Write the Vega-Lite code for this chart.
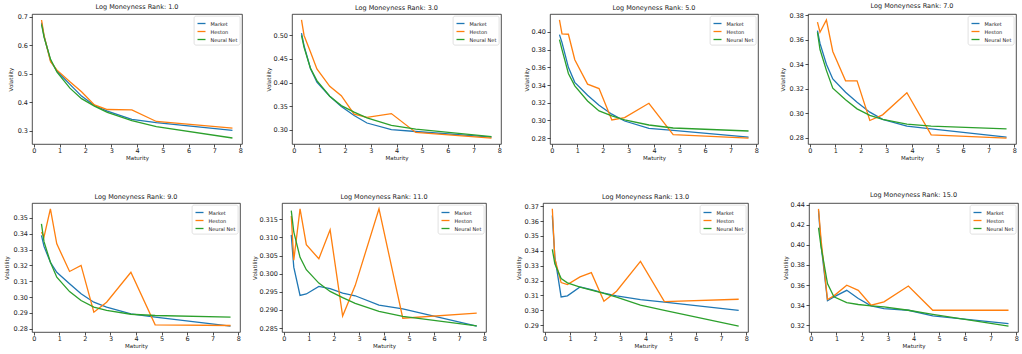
{
"$schema": "https://vega.github.io/schema/vega-lite/v6.json",
"padding": {"left": 0, "top": 2, "right": 0, "bottom": 0},
"background": "white",
"data": {"values": [
{"rank":1,"series":"Market","maturity":0.3,"vol":0.679},{"rank":1,"series":"Market","maturity":0.4,"vol":0.63},{"rank":1,"series":"Market","maturity":0.65,"vol":0.545},{"rank":1,"series":"Market","maturity":0.9,"vol":0.508},{"rank":1,"series":"Market","maturity":1.4,"vol":0.462},{"rank":1,"series":"Market","maturity":1.85,"vol":0.421},{"rank":1,"series":"Market","maturity":2.35,"vol":0.388},{"rank":1,"series":"Market","maturity":2.85,"vol":0.368},{"rank":1,"series":"Market","maturity":3.8,"vol":0.339},{"rank":1,"series":"Market","maturity":4.75,"vol":0.328},{"rank":1,"series":"Market","maturity":7.7,"vol":0.301},
{"rank":1,"series":"Heston","maturity":0.3,"vol":0.688},{"rank":1,"series":"Heston","maturity":0.4,"vol":0.632},{"rank":1,"series":"Heston","maturity":0.65,"vol":0.542},{"rank":1,"series":"Heston","maturity":0.9,"vol":0.512},{"rank":1,"series":"Heston","maturity":1.4,"vol":0.471},{"rank":1,"series":"Heston","maturity":1.85,"vol":0.436},{"rank":1,"series":"Heston","maturity":2.35,"vol":0.39},{"rank":1,"series":"Heston","maturity":2.85,"vol":0.374},{"rank":1,"series":"Heston","maturity":3.8,"vol":0.373},{"rank":1,"series":"Heston","maturity":4.75,"vol":0.332},{"rank":1,"series":"Heston","maturity":7.7,"vol":0.309},
{"rank":1,"series":"Neural Net","maturity":0.3,"vol":0.673},{"rank":1,"series":"Neural Net","maturity":0.4,"vol":0.627},{"rank":1,"series":"Neural Net","maturity":0.65,"vol":0.55},{"rank":1,"series":"Neural Net","maturity":0.9,"vol":0.505},{"rank":1,"series":"Neural Net","maturity":1.4,"vol":0.449},{"rank":1,"series":"Neural Net","maturity":1.85,"vol":0.412},{"rank":1,"series":"Neural Net","maturity":2.35,"vol":0.386},{"rank":1,"series":"Neural Net","maturity":2.85,"vol":0.364},{"rank":1,"series":"Neural Net","maturity":3.8,"vol":0.335},{"rank":1,"series":"Neural Net","maturity":4.75,"vol":0.314},{"rank":1,"series":"Neural Net","maturity":7.7,"vol":0.274},
{"rank":3,"series":"Market","maturity":0.3,"vol":0.505},{"rank":3,"series":"Market","maturity":0.4,"vol":0.478},{"rank":3,"series":"Market","maturity":0.65,"vol":0.43},{"rank":3,"series":"Market","maturity":0.9,"vol":0.401},{"rank":3,"series":"Market","maturity":1.4,"vol":0.371},{"rank":3,"series":"Market","maturity":1.85,"vol":0.349},{"rank":3,"series":"Market","maturity":2.35,"vol":0.33},{"rank":3,"series":"Market","maturity":2.85,"vol":0.314},{"rank":3,"series":"Market","maturity":3.8,"vol":0.3},{"rank":3,"series":"Market","maturity":4.75,"vol":0.296},{"rank":3,"series":"Market","maturity":7.7,"vol":0.284},
{"rank":3,"series":"Heston","maturity":0.3,"vol":0.533},{"rank":3,"series":"Heston","maturity":0.4,"vol":0.5},{"rank":3,"series":"Heston","maturity":0.65,"vol":0.465},{"rank":3,"series":"Heston","maturity":0.9,"vol":0.429},{"rank":3,"series":"Heston","maturity":1.4,"vol":0.392},{"rank":3,"series":"Heston","maturity":1.85,"vol":0.372},{"rank":3,"series":"Heston","maturity":2.35,"vol":0.333},{"rank":3,"series":"Heston","maturity":2.85,"vol":0.326},{"rank":3,"series":"Heston","maturity":3.8,"vol":0.334},{"rank":3,"series":"Heston","maturity":4.75,"vol":0.294},{"rank":3,"series":"Heston","maturity":7.7,"vol":0.282},
{"rank":3,"series":"Neural Net","maturity":0.3,"vol":0.5},{"rank":3,"series":"Neural Net","maturity":0.4,"vol":0.475},{"rank":3,"series":"Neural Net","maturity":0.65,"vol":0.43},{"rank":3,"series":"Neural Net","maturity":0.9,"vol":0.404},{"rank":3,"series":"Neural Net","maturity":1.4,"vol":0.371},{"rank":3,"series":"Neural Net","maturity":1.85,"vol":0.351},{"rank":3,"series":"Neural Net","maturity":2.35,"vol":0.337},{"rank":3,"series":"Neural Net","maturity":2.85,"vol":0.325},{"rank":3,"series":"Neural Net","maturity":3.8,"vol":0.309},{"rank":3,"series":"Neural Net","maturity":4.75,"vol":0.301},{"rank":3,"series":"Neural Net","maturity":7.7,"vol":0.285},
{"rank":5,"series":"Market","maturity":0.3,"vol":0.397},{"rank":5,"series":"Market","maturity":0.4,"vol":0.388},{"rank":5,"series":"Market","maturity":0.65,"vol":0.36},{"rank":5,"series":"Market","maturity":0.9,"vol":0.343},{"rank":5,"series":"Market","maturity":1.4,"vol":0.3285},{"rank":5,"series":"Market","maturity":1.85,"vol":0.317},{"rank":5,"series":"Market","maturity":2.35,"vol":0.307},{"rank":5,"series":"Market","maturity":2.85,"vol":0.2993},{"rank":5,"series":"Market","maturity":3.8,"vol":0.291},{"rank":5,"series":"Market","maturity":4.75,"vol":0.2887},{"rank":5,"series":"Market","maturity":7.7,"vol":0.2811},
{"rank":5,"series":"Heston","maturity":0.3,"vol":0.4136},{"rank":5,"series":"Heston","maturity":0.4,"vol":0.3977},{"rank":5,"series":"Heston","maturity":0.65,"vol":0.3974},{"rank":5,"series":"Heston","maturity":0.9,"vol":0.3686},{"rank":5,"series":"Heston","maturity":1.4,"vol":0.341},{"rank":5,"series":"Heston","maturity":1.85,"vol":0.336},{"rank":5,"series":"Heston","maturity":2.35,"vol":0.3005},{"rank":5,"series":"Heston","maturity":2.85,"vol":0.3031},{"rank":5,"series":"Heston","maturity":3.8,"vol":0.3194},{"rank":5,"series":"Heston","maturity":4.75,"vol":0.2838},{"rank":5,"series":"Heston","maturity":7.7,"vol":0.28},
{"rank":5,"series":"Neural Net","maturity":0.3,"vol":0.3913},{"rank":5,"series":"Neural Net","maturity":0.4,"vol":0.38},{"rank":5,"series":"Neural Net","maturity":0.65,"vol":0.353},{"rank":5,"series":"Neural Net","maturity":0.9,"vol":0.339},{"rank":5,"series":"Neural Net","maturity":1.4,"vol":0.322},{"rank":5,"series":"Neural Net","maturity":1.85,"vol":0.3107},{"rank":5,"series":"Neural Net","maturity":2.35,"vol":0.305},{"rank":5,"series":"Neural Net","maturity":2.85,"vol":0.3005},{"rank":5,"series":"Neural Net","maturity":3.8,"vol":0.2948},{"rank":5,"series":"Neural Net","maturity":4.75,"vol":0.2914},{"rank":5,"series":"Neural Net","maturity":7.7,"vol":0.288},
{"rank":7,"series":"Market","maturity":0.3,"vol":0.3675},{"rank":7,"series":"Market","maturity":0.4,"vol":0.357},{"rank":7,"series":"Market","maturity":0.65,"vol":0.34},{"rank":7,"series":"Market","maturity":0.9,"vol":0.328},{"rank":7,"series":"Market","maturity":1.4,"vol":0.3172},{"rank":7,"series":"Market","maturity":1.85,"vol":0.309},{"rank":7,"series":"Market","maturity":2.35,"vol":0.3009},{"rank":7,"series":"Market","maturity":2.85,"vol":0.295},{"rank":7,"series":"Market","maturity":3.8,"vol":0.2895},{"rank":7,"series":"Market","maturity":4.75,"vol":0.2873},{"rank":7,"series":"Market","maturity":7.7,"vol":0.2805},
{"rank":7,"series":"Heston","maturity":0.3,"vol":0.3743},{"rank":7,"series":"Heston","maturity":0.4,"vol":0.3661},{"rank":7,"series":"Heston","maturity":0.65,"vol":0.3762},{"rank":7,"series":"Heston","maturity":0.9,"vol":0.3504},{"rank":7,"series":"Heston","maturity":1.4,"vol":0.3265},{"rank":7,"series":"Heston","maturity":1.85,"vol":0.3265},{"rank":7,"series":"Heston","maturity":2.35,"vol":0.2941},{"rank":7,"series":"Heston","maturity":2.85,"vol":0.2987},{"rank":7,"series":"Heston","maturity":3.8,"vol":0.3167},{"rank":7,"series":"Heston","maturity":4.75,"vol":0.2824},{"rank":7,"series":"Heston","maturity":7.7,"vol":0.2797},
{"rank":7,"series":"Neural Net","maturity":0.3,"vol":0.3661},{"rank":7,"series":"Neural Net","maturity":0.4,"vol":0.352},{"rank":7,"series":"Neural Net","maturity":0.65,"vol":0.335},{"rank":7,"series":"Neural Net","maturity":0.9,"vol":0.3205},{"rank":7,"series":"Neural Net","maturity":1.4,"vol":0.311},{"rank":7,"series":"Neural Net","maturity":1.85,"vol":0.3036},{"rank":7,"series":"Neural Net","maturity":2.35,"vol":0.2982},{"rank":7,"series":"Neural Net","maturity":2.85,"vol":0.295},{"rank":7,"series":"Neural Net","maturity":3.8,"vol":0.2911},{"rank":7,"series":"Neural Net","maturity":4.75,"vol":0.2895},{"rank":7,"series":"Neural Net","maturity":7.7,"vol":0.2873},
{"rank":9,"series":"Market","maturity":0.3,"vol":0.339},{"rank":9,"series":"Market","maturity":0.4,"vol":0.332},{"rank":9,"series":"Market","maturity":0.65,"vol":0.322},{"rank":9,"series":"Market","maturity":0.9,"vol":0.3157},{"rank":9,"series":"Market","maturity":1.4,"vol":0.3084},{"rank":9,"series":"Market","maturity":1.85,"vol":0.3021},{"rank":9,"series":"Market","maturity":2.35,"vol":0.2968},{"rank":9,"series":"Market","maturity":2.85,"vol":0.2937},{"rank":9,"series":"Market","maturity":3.8,"vol":0.2895},{"rank":9,"series":"Market","maturity":4.75,"vol":0.2874},{"rank":9,"series":"Market","maturity":7.7,"vol":0.2817},
{"rank":9,"series":"Heston","maturity":0.3,"vol":0.341},{"rank":9,"series":"Heston","maturity":0.4,"vol":0.338},{"rank":9,"series":"Heston","maturity":0.65,"vol":0.3557},{"rank":9,"series":"Heston","maturity":0.9,"vol":0.3336},{"rank":9,"series":"Heston","maturity":1.4,"vol":0.3162},{"rank":9,"series":"Heston","maturity":1.85,"vol":0.32},{"rank":9,"series":"Heston","maturity":2.35,"vol":0.2905},{"rank":9,"series":"Heston","maturity":2.85,"vol":0.2968},{"rank":9,"series":"Heston","maturity":3.8,"vol":0.3157},{"rank":9,"series":"Heston","maturity":4.75,"vol":0.2825},{"rank":9,"series":"Heston","maturity":7.7,"vol":0.2821},
{"rank":9,"series":"Neural Net","maturity":0.3,"vol":0.3462},{"rank":9,"series":"Neural Net","maturity":0.4,"vol":0.335},{"rank":9,"series":"Neural Net","maturity":0.65,"vol":0.322},{"rank":9,"series":"Neural Net","maturity":0.9,"vol":0.3126},{"rank":9,"series":"Neural Net","maturity":1.4,"vol":0.3035},{"rank":9,"series":"Neural Net","maturity":1.85,"vol":0.2979},{"rank":9,"series":"Neural Net","maturity":2.35,"vol":0.2937},{"rank":9,"series":"Neural Net","maturity":2.85,"vol":0.2916},{"rank":9,"series":"Neural Net","maturity":3.8,"vol":0.2892},{"rank":9,"series":"Neural Net","maturity":4.75,"vol":0.2884},{"rank":9,"series":"Neural Net","maturity":7.7,"vol":0.2874},
{"rank":11,"series":"Market","maturity":0.3,"vol":0.3107},{"rank":11,"series":"Market","maturity":0.4,"vol":0.3018},{"rank":11,"series":"Market","maturity":0.65,"vol":0.294},{"rank":11,"series":"Market","maturity":0.9,"vol":0.2944},{"rank":11,"series":"Market","maturity":1.4,"vol":0.2965},{"rank":11,"series":"Market","maturity":1.85,"vol":0.2959},{"rank":11,"series":"Market","maturity":2.35,"vol":0.2946},{"rank":11,"series":"Market","maturity":2.85,"vol":0.2939},{"rank":11,"series":"Market","maturity":3.8,"vol":0.2913},{"rank":11,"series":"Market","maturity":4.75,"vol":0.2903},{"rank":11,"series":"Market","maturity":7.7,"vol":0.2855},
{"rank":11,"series":"Heston","maturity":0.3,"vol":0.3159},{"rank":11,"series":"Heston","maturity":0.4,"vol":0.3037},{"rank":11,"series":"Heston","maturity":0.65,"vol":0.3179},{"rank":11,"series":"Heston","maturity":0.9,"vol":0.308},{"rank":11,"series":"Heston","maturity":1.4,"vol":0.3041},{"rank":11,"series":"Heston","maturity":1.85,"vol":0.3121},{"rank":11,"series":"Heston","maturity":2.35,"vol":0.2883},{"rank":11,"series":"Heston","maturity":2.85,"vol":0.2967},{"rank":11,"series":"Heston","maturity":3.8,"vol":0.3179},{"rank":11,"series":"Heston","maturity":4.75,"vol":0.2877},{"rank":11,"series":"Heston","maturity":7.7,"vol":0.2891},
{"rank":11,"series":"Neural Net","maturity":0.3,"vol":0.3174},{"rank":11,"series":"Neural Net","maturity":0.4,"vol":0.3115},{"rank":11,"series":"Neural Net","maturity":0.65,"vol":0.3045},{"rank":11,"series":"Neural Net","maturity":0.9,"vol":0.3011},{"rank":11,"series":"Neural Net","maturity":1.4,"vol":0.2974},{"rank":11,"series":"Neural Net","maturity":1.85,"vol":0.2951},{"rank":11,"series":"Neural Net","maturity":2.35,"vol":0.2934},{"rank":11,"series":"Neural Net","maturity":2.85,"vol":0.2918},{"rank":11,"series":"Neural Net","maturity":3.8,"vol":0.2896},{"rank":11,"series":"Neural Net","maturity":4.75,"vol":0.2882},{"rank":11,"series":"Neural Net","maturity":7.7,"vol":0.2856},
{"rank":13,"series":"Market","maturity":0.3,"vol":0.3637},{"rank":13,"series":"Market","maturity":0.4,"vol":0.3358},{"rank":13,"series":"Market","maturity":0.65,"vol":0.309},{"rank":13,"series":"Market","maturity":0.9,"vol":0.3097},{"rank":13,"series":"Market","maturity":1.4,"vol":0.3157},{"rank":13,"series":"Market","maturity":1.85,"vol":0.3138},{"rank":13,"series":"Market","maturity":2.35,"vol":0.3115},{"rank":13,"series":"Market","maturity":2.85,"vol":0.3097},{"rank":13,"series":"Market","maturity":3.8,"vol":0.3072},{"rank":13,"series":"Market","maturity":4.75,"vol":0.3055},{"rank":13,"series":"Market","maturity":7.7,"vol":0.3},
{"rank":13,"series":"Heston","maturity":0.3,"vol":0.3682},{"rank":13,"series":"Heston","maturity":0.4,"vol":0.3347},{"rank":13,"series":"Heston","maturity":0.65,"vol":0.3186},{"rank":13,"series":"Heston","maturity":0.9,"vol":0.3173},{"rank":13,"series":"Heston","maturity":1.4,"vol":0.3224},{"rank":13,"series":"Heston","maturity":1.85,"vol":0.3253},{"rank":13,"series":"Heston","maturity":2.35,"vol":0.3061},{"rank":13,"series":"Heston","maturity":2.85,"vol":0.3128},{"rank":13,"series":"Heston","maturity":3.8,"vol":0.3329},{"rank":13,"series":"Heston","maturity":4.75,"vol":0.3058},{"rank":13,"series":"Heston","maturity":7.7,"vol":0.3074},
{"rank":13,"series":"Neural Net","maturity":0.3,"vol":0.341},{"rank":13,"series":"Neural Net","maturity":0.4,"vol":0.3313},{"rank":13,"series":"Neural Net","maturity":0.65,"vol":0.3213},{"rank":13,"series":"Neural Net","maturity":0.9,"vol":0.3184},{"rank":13,"series":"Neural Net","maturity":1.4,"vol":0.3155},{"rank":13,"series":"Neural Net","maturity":1.85,"vol":0.3136},{"rank":13,"series":"Neural Net","maturity":2.35,"vol":0.3113},{"rank":13,"series":"Neural Net","maturity":2.85,"vol":0.3088},{"rank":13,"series":"Neural Net","maturity":3.8,"vol":0.3035},{"rank":13,"series":"Neural Net","maturity":4.75,"vol":0.3},{"rank":13,"series":"Neural Net","maturity":7.7,"vol":0.2893},
{"rank":15,"series":"Market","maturity":0.3,"vol":0.434},{"rank":15,"series":"Market","maturity":0.4,"vol":0.4},{"rank":15,"series":"Market","maturity":0.65,"vol":0.3444},{"rank":15,"series":"Market","maturity":0.9,"vol":0.3483},{"rank":15,"series":"Market","maturity":1.4,"vol":0.3548},{"rank":15,"series":"Market","maturity":1.85,"vol":0.3466},{"rank":15,"series":"Market","maturity":2.35,"vol":0.3393},{"rank":15,"series":"Market","maturity":2.85,"vol":0.3367},{"rank":15,"series":"Market","maturity":3.8,"vol":0.335},{"rank":15,"series":"Market","maturity":4.75,"vol":0.3294},{"rank":15,"series":"Market","maturity":7.7,"vol":0.3218},
{"rank":15,"series":"Heston","maturity":0.3,"vol":0.4357},{"rank":15,"series":"Heston","maturity":0.4,"vol":0.405},{"rank":15,"series":"Heston","maturity":0.65,"vol":0.3457},{"rank":15,"series":"Heston","maturity":0.9,"vol":0.3493},{"rank":15,"series":"Heston","maturity":1.4,"vol":0.3598},{"rank":15,"series":"Heston","maturity":1.85,"vol":0.3548},{"rank":15,"series":"Heston","maturity":2.35,"vol":0.34},{"rank":15,"series":"Heston","maturity":2.85,"vol":0.3433},{"rank":15,"series":"Heston","maturity":3.8,"vol":0.3591},{"rank":15,"series":"Heston","maturity":4.75,"vol":0.335},{"rank":15,"series":"Heston","maturity":7.7,"vol":0.335},
{"rank":15,"series":"Neural Net","maturity":0.3,"vol":0.4169},{"rank":15,"series":"Neural Net","maturity":0.4,"vol":0.398},{"rank":15,"series":"Neural Net","maturity":0.65,"vol":0.3615},{"rank":15,"series":"Neural Net","maturity":0.9,"vol":0.3483},{"rank":15,"series":"Neural Net","maturity":1.4,"vol":0.3426},{"rank":15,"series":"Neural Net","maturity":1.85,"vol":0.3407},{"rank":15,"series":"Neural Net","maturity":2.35,"vol":0.3393},{"rank":15,"series":"Neural Net","maturity":2.85,"vol":0.3384},{"rank":15,"series":"Neural Net","maturity":3.8,"vol":0.335},{"rank":15,"series":"Neural Net","maturity":4.75,"vol":0.3308},{"rank":15,"series":"Neural Net","maturity":7.7,"vol":0.3192}
]},
"spacing": 29,
"resolve": {"scale": {"x": "independent", "y": "independent", "color": "independent"}, "legend": {"color": "independent"}},
"vconcat": [
{"spacing": 10,
 "resolve": {"scale": {"x": "independent", "y": "independent", "color": "independent"}, "legend": {"color": "independent"}},
 "hconcat": [
 {"width": 210, "height": 130, "title": "Log Moneyness Rank: 1.0",
  "transform": [{"filter": "datum.rank == 1"}],
  "mark": {"type": "line"},
  "encoding": {
   "x": {"field": "maturity", "type": "quantitative", "scale": {"domain": [-0.07, 8.07], "nice": false, "zero": false}, "axis": {"values": [0,1,2,3,4,5,6,7,8], "title": "Maturity"}},
   "y": {"field": "vol", "type": "quantitative", "scale": {"domain": [0.253, 0.709], "nice": false, "zero": false}, "axis": {"values": [0.3,0.4,0.5,0.6,0.7], "format": ".1f", "title": "Volatility", "minExtent": 28, "maxExtent": 28, "titleX": -19}},
   "color": {"field": "series", "type": "nominal", "scale": {"domain": ["Market", "Heston", "Neural Net"], "range": ["#1f77b4", "#ff7f0e", "#2ca02c"]}, "legend": {"orient": "top-right", "title": null}}
  }},
 {"width": 209, "height": 130, "title": "Log Moneyness Rank: 3.0",
  "transform": [{"filter": "datum.rank == 3"}],
  "mark": {"type": "line"},
  "encoding": {
   "x": {"field": "maturity", "type": "quantitative", "scale": {"domain": [-0.07, 8.07], "nice": false, "zero": false}, "axis": {"values": [0,1,2,3,4,5,6,7,8], "title": "Maturity"}},
   "y": {"field": "vol", "type": "quantitative", "scale": {"domain": [0.2694, 0.5456], "nice": false, "zero": false}, "axis": {"values": [0.3,0.35,0.4,0.45,0.5], "format": ".2f", "title": "Volatility", "minExtent": 38, "maxExtent": 38, "titleX": -21}},
   "color": {"field": "series", "type": "nominal", "scale": {"domain": ["Market", "Heston", "Neural Net"], "range": ["#1f77b4", "#ff7f0e", "#2ca02c"]}, "legend": {"orient": "top-right", "title": null}}
  }},
 {"width": 208, "height": 130, "title": "Log Moneyness Rank: 5.0",
  "transform": [{"filter": "datum.rank == 5"}],
  "mark": {"type": "line"},
  "encoding": {
   "x": {"field": "maturity", "type": "quantitative", "scale": {"domain": [-0.07, 8.07], "nice": false, "zero": false}, "axis": {"values": [0,1,2,3,4,5,6,7,8], "title": "Maturity"}},
   "y": {"field": "vol", "type": "quantitative", "scale": {"domain": [0.2733, 0.4203], "nice": false, "zero": false}, "axis": {"values": [0.28,0.3,0.32,0.34,0.36,0.38,0.4], "format": ".2f", "title": "Volatility", "minExtent": 37, "maxExtent": 37, "titleX": -21}},
   "color": {"field": "series", "type": "nominal", "scale": {"domain": ["Market", "Heston", "Neural Net"], "range": ["#1f77b4", "#ff7f0e", "#2ca02c"]}, "legend": {"orient": "top-right", "title": null}}
  }},
 {"width": 208, "height": 130, "title": "Log Moneyness Rank: 7.0",
  "transform": [{"filter": "datum.rank == 7"}],
  "mark": {"type": "line"},
  "encoding": {
   "x": {"field": "maturity", "type": "quantitative", "scale": {"domain": [-0.07, 8.07], "nice": false, "zero": false}, "axis": {"values": [0,1,2,3,4,5,6,7,8], "title": "Maturity"}},
   "y": {"field": "vol", "type": "quantitative", "scale": {"domain": [0.2749, 0.381], "nice": false, "zero": false}, "axis": {"values": [0.28,0.3,0.32,0.34,0.36,0.38], "format": ".2f", "title": "Volatility", "minExtent": 38, "maxExtent": 38, "titleX": -23}},
   "color": {"field": "series", "type": "nominal", "scale": {"domain": ["Market", "Heston", "Neural Net"], "range": ["#1f77b4", "#ff7f0e", "#2ca02c"]}, "legend": {"orient": "top-right", "title": null}}
  }}
 ]},
{"spacing": 10,
 "resolve": {"scale": {"x": "independent", "y": "independent", "color": "independent"}, "legend": {"color": "independent"}},
 "hconcat": [
 {"width": 208, "height": 129, "title": "Log Moneyness Rank: 9.0",
  "transform": [{"filter": "datum.rank == 9"}],
  "mark": {"type": "line"},
  "encoding": {
   "x": {"field": "maturity", "type": "quantitative", "scale": {"domain": [-0.07, 8.07], "nice": false, "zero": false}, "axis": {"values": [0,1,2,3,4,5,6,7,8], "title": "Maturity"}},
   "y": {"field": "vol", "type": "quantitative", "scale": {"domain": [0.278, 0.3594], "nice": false, "zero": false}, "axis": {"values": [0.28,0.29,0.3,0.31,0.32,0.33,0.34,0.35], "format": ".2f", "title": "Volatility", "minExtent": 31, "maxExtent": 31, "titleX": -23}},
   "color": {"field": "series", "type": "nominal", "scale": {"domain": ["Market", "Heston", "Neural Net"], "range": ["#1f77b4", "#ff7f0e", "#2ca02c"]}, "legend": {"orient": "top-right", "title": null}}
  }},
 {"width": 204, "height": 129, "title": "Log Moneyness Rank: 11.0",
  "transform": [{"filter": "datum.rank == 11"}],
  "mark": {"type": "line"},
  "encoding": {
   "x": {"field": "maturity", "type": "quantitative", "scale": {"domain": [-0.07, 8.07], "nice": false, "zero": false}, "axis": {"values": [0,1,2,3,4,5,6,7,8], "title": "Maturity"}},
   "y": {"field": "vol", "type": "quantitative", "scale": {"domain": [0.2839, 0.3195], "nice": false, "zero": false}, "axis": {"values": [0.285,0.29,0.295,0.3,0.305,0.31,0.315], "format": ".3f", "title": "Volatility", "minExtent": 30, "maxExtent": 30, "titleX": -25}},
   "color": {"field": "series", "type": "nominal", "scale": {"domain": ["Market", "Heston", "Neural Net"], "range": ["#1f77b4", "#ff7f0e", "#2ca02c"]}, "legend": {"orient": "top-right", "title": null}}
  }},
 {"width": 205, "height": 129, "title": "Log Moneyness Rank: 13.0",
  "transform": [{"filter": "datum.rank == 13"}],
  "mark": {"type": "line"},
  "encoding": {
   "x": {"field": "maturity", "type": "quantitative", "scale": {"domain": [-0.07, 8.07], "nice": false, "zero": false}, "axis": {"values": [0,1,2,3,4,5,6,7,8], "title": "Maturity"}},
   "y": {"field": "vol", "type": "quantitative", "scale": {"domain": [0.2854, 0.3721], "nice": false, "zero": false}, "axis": {"values": [0.29,0.3,0.31,0.32,0.33,0.34,0.35,0.36,0.37], "format": ".2f", "title": "Volatility", "minExtent": 45, "maxExtent": 45, "titleX": -22}},
   "color": {"field": "series", "type": "nominal", "scale": {"domain": ["Market", "Heston", "Neural Net"], "range": ["#1f77b4", "#ff7f0e", "#2ca02c"]}, "legend": {"orient": "top-right", "title": null}}
  }},
 {"width": 209, "height": 129, "title": "Log Moneyness Rank: 15.0",
  "transform": [{"filter": "datum.rank == 15"}],
  "mark": {"type": "line"},
  "encoding": {
   "x": {"field": "maturity", "type": "quantitative", "scale": {"domain": [-0.07, 8.07], "nice": false, "zero": false}, "axis": {"values": [0,1,2,3,4,5,6,7,8], "title": "Maturity"}},
   "y": {"field": "vol", "type": "quantitative", "scale": {"domain": [0.3134, 0.4415], "nice": false, "zero": false}, "axis": {"values": [0.32,0.34,0.36,0.38,0.4,0.42,0.44], "format": ".2f", "title": "Volatility", "minExtent": 49, "maxExtent": 49, "titleX": -21}},
   "color": {"field": "series", "type": "nominal", "scale": {"domain": ["Market", "Heston", "Neural Net"], "range": ["#1f77b4", "#ff7f0e", "#2ca02c"]}, "legend": {"orient": "top-right", "title": null}}
  }}
 ]}
],
"config": {
 "font": "DejaVu Sans",
 "view": {"stroke": "#222", "strokeWidth": 0.8},
 "line": {"strokeWidth": 1.3},
 "axis": {"grid": false, "domain": false, "tickColor": "#222", "tickSize": 3, "tickWidth": 0.8, "labelFontSize": 6.5, "labelColor": "#222", "labelPadding": 1.5, "titleFontSize": 5.5, "titleFontWeight": "normal", "titleColor": "#222", "labelFont": "DejaVu Sans", "titleFont": "DejaVu Sans"},
 "axisX": {"titlePadding": 1.5, "labelPadding": 0.5},
 "title": {"fontSize": 6.5, "fontWeight": "normal", "offset": 3, "color": "#222", "font": "DejaVu Sans"},
 "legend": {"labelFontSize": 5, "labelFont": "DejaVu Sans", "labelColor": "#222", "symbolType": "stroke", "symbolSize": 64, "symbolStrokeWidth": 1.5, "padding": 2.5, "rowPadding": 0, "offset": 2, "fillColor": "white", "strokeColor": "#cccccc", "strokeWidth": 0.6, "cornerRadius": 2, "labelOffset": 4}
}
}
